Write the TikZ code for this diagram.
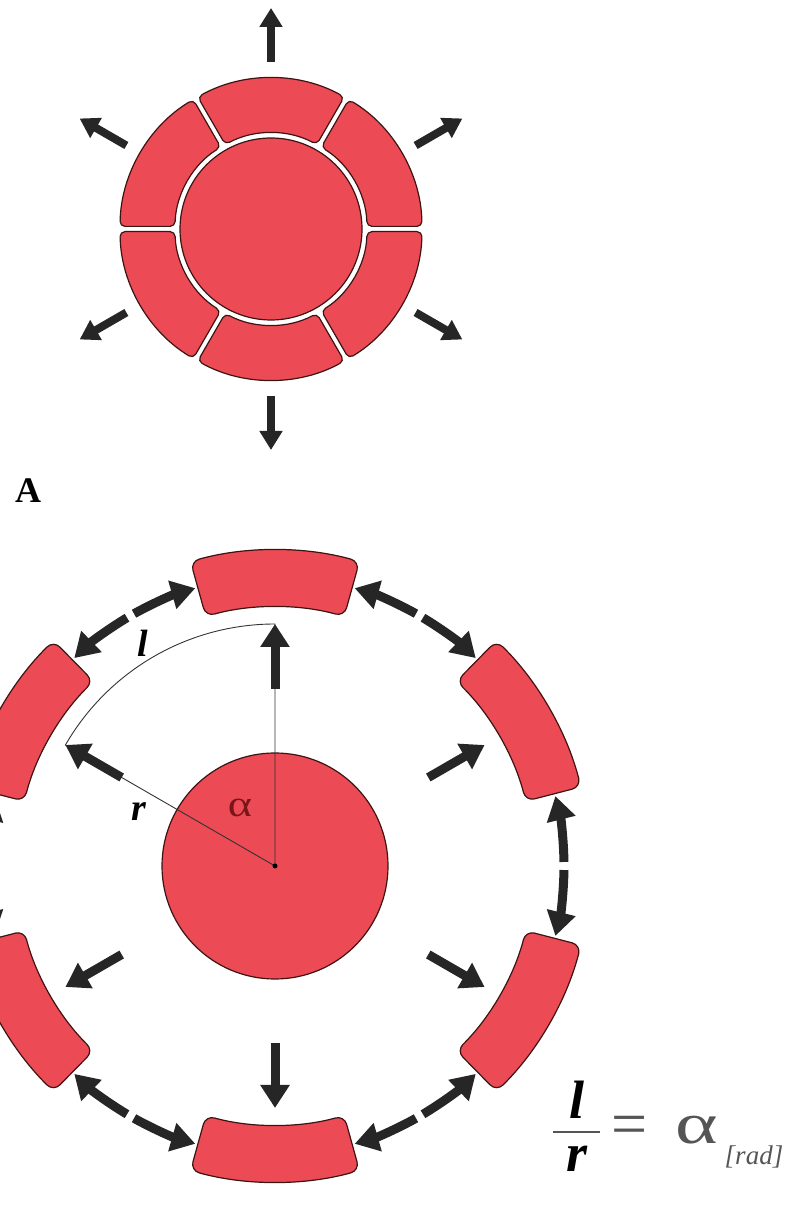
\documentclass[tikz,border=0pt]{standalone}
\usepackage{fontspec}
\setmainfont{Liberation Serif}
\usetikzlibrary{arrows.meta,calc}
\definecolor{segred}{RGB}{236,74,84}
\definecolor{segline}{RGB}{60,20,20}
\definecolor{arrowgray}{RGB}{38,38,38}
\definecolor{alphared}{RGB}{120,22,26}
\definecolor{formgray}{RGB}{85,85,85}
% #1 centre, #2 outer R, #3 inner r, #4 start angle, #5 end angle, #6 half gap, #7 corner radius
\newcommand\ringseg[7]{%
  \pgfmathsetmacro\oA{#4+asin(#6/#2)}%
  \pgfmathsetmacro\oB{#5-asin(#6/#2)}%
  \pgfmathsetmacro\iA{#4+asin(#6/#3)}%
  \pgfmathsetmacro\iB{#5-asin(#6/#3)}%
  \draw[seg,rounded corners=#7] ($(#1)+(\oA:#2)$) arc[start angle=\oA, end angle=\oB, radius=#2]
     -- ($(#1)+(\iB:#3)$) arc[start angle=\iB, end angle=\iA, radius=#3] -- cycle;
}
\begin{document}
\begin{tikzpicture}[x=1pt,y=1pt,
  seg/.style={fill=segred,draw=segline,line width=1.2pt},
  toparr/.style={draw=arrowgray,line width=8pt,-{Triangle[length=19pt,width=22pt]}},
  radarr/.style={draw=arrowgray,line width=9pt,-{Triangle[length=23pt,width=28pt]}},
  tanarr/.style={draw=arrowgray,line width=9pt,-{Triangle[length=24pt,width=28pt]}},
  guide/.style={draw=black!80,line width=0.9pt},
  lbl/.style={inner sep=0pt},
]
\useasboundingbox (0,0) rectangle (792,1211);
\clip (0,0) rectangle (792,1211);
\coordinate (T) at (271,982);
\coordinate (B) at (275,345);
% ---------- top figure ----------
\draw[seg] (T) circle (91);
\foreach \a in {0,60,...,300} {\ringseg{T}{151}{96}{\a}{\a+60}{2.6}{5}}
\foreach \a in {90,30,150,210,270,330}
  \draw[toparr] ($(T)+(\a:167)$) -- ($(T)+(\a:221)$);
% ---------- label A ----------
\node[lbl,font=\bfseries\fontsize{36}{36}\selectfont] (labA) at (28,720) {A};
% ---------- bottom figure ----------
\draw[seg] (B) circle (113);
\foreach \a in {90,30,-30,-90,-150,150} {\ringseg{B}{316}{259}{\a-15.5}{\a+15.5}{0}{9}}
\coordinate (P90) at ($(B)+(90:242)$);
\coordinate (P150) at ($(B)+(150:242)$);
\draw[guide] (B) -- (P90) arc[start angle=90,end angle=150,radius=242] -- (B);
\fill[black] (B) circle (2.5);
\foreach \a in {90,30,-30,-90,-150,150}
  \draw[radarr] ($(B)+(\a:177)$) -- ($(B)+(\a:242)$);
\foreach \g in {120,60,0,-60,-120,180} {
  \draw[tanarr] ($(B)+({\g+0.8}:289)$) arc[start angle={\g+0.8}, end angle={\g+14}, radius=289];
  \draw[tanarr] ($(B)+({\g-0.8}:289)$) arc[start angle={\g-0.8}, end angle={\g-14}, radius=289];
}
\node[lbl,font=\bfseries\itshape\fontsize{38}{40}\selectfont] (labl) at (143,568) {l};
\node[lbl,font=\bfseries\itshape\fontsize{38}{40}\selectfont] (labr) at (139,399) {r};
\node[lbl,text=alphared,font=\fontsize{37}{40}\selectfont,transform shape,xscale=1.25] (laba) at (240,403) {α};
% ---------- formula ----------
\node[lbl,font=\bfseries\itshape\fontsize{54}{56}\selectfont] (fl) at (577,111) {l};
\node[lbl,font=\bfseries\itshape\fontsize{54}{56}\selectfont] (fr) at (577,52) {r};
\coordinate (barL) at (553,79);
\coordinate (barR) at (600,79);
\draw[formgray,line width=2pt] (barL) -- (barR);
\node[lbl,text=formgray,font=\fontsize{64}{66}\selectfont] (feq) at (630,80) {=};
\node[lbl,text=formgray,font=\fontsize{58}{60}\selectfont,transform shape,xscale=1.4] (falpha) at (697,81) {α};
\node[lbl,text=formgray,font=\itshape\fontsize{27}{30}\selectfont] (frad) at (754,54) {[rad]};
\end{tikzpicture}
\end{document}
